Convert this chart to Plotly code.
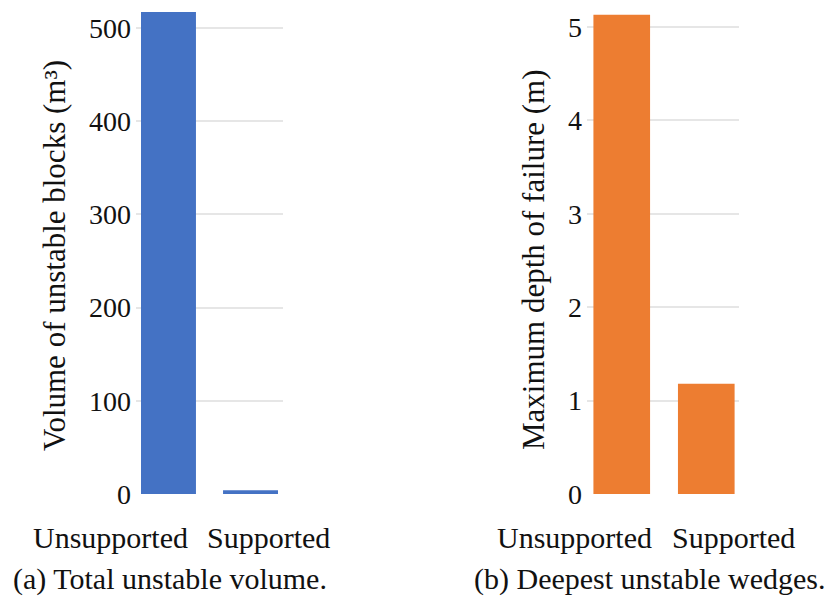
import plotly.graph_objects as go
from plotly.subplots import make_subplots

# Data
categories = ["Unsupported", "Supported"]
volume_m3 = [517, 4]          # total unstable volume (m³)
depth_m = [5.13, 1.18]        # maximum depth of failure (m)
volume_ticks = [0, 100, 200, 300, 400, 500]
depth_ticks = [0, 1, 2, 3, 4, 5]
captions = ["(a) Total unstable volume.", "(b) Deepest unstable wedges."]
y_titles = ["Volume of unstable blocks (m³)", "Maximum depth of failure (m)"]

W, H = 832, 597
FONT = "Liberation Serif"
BLUE = "#4472C4"
ORANGE = "#ED7D31"
GRID = "#e6e6e6"


def px(x):
    return x / W


def py(y):
    return 1 - y / H


fig = make_subplots(rows=1, cols=2)
fig.add_trace(go.Bar(x=categories, y=volume_m3, marker=dict(color=BLUE, line=dict(width=0))), row=1, col=1)
fig.add_trace(go.Bar(x=categories, y=depth_m, marker=dict(color=ORANGE, line=dict(width=0))), row=1, col=2)

ydom = [py(494), py(12)]
common_x = dict(showticklabels=False, showgrid=False, zeroline=False, showline=False,
                ticks="", automargin=False)
common_y = dict(domain=ydom, showgrid=True, gridcolor=GRID, gridwidth=1.5, zeroline=False,
                showline=False, ticks="", automargin=False,
                tickfont=dict(size=28, family=FONT, color="#111111"), ticklabelstandoff=4)
fig.update_layout(
    template="none",
    width=W, height=H,
    margin=dict(l=0, r=0, t=0, b=0, pad=0, autoexpand=False),
    paper_bgcolor="white", plot_bgcolor="white",
    showlegend=False,
    bargap=0.33,
    font=dict(family=FONT, color="#000000"),
    xaxis=dict(domain=[px(136), px(283)], range=[-0.396, 1.396], **common_x),
    xaxis2=dict(domain=[px(587), px(739)], range=[-0.411, 1.387], **common_x),
    yaxis=dict(range=[0, 517], tickvals=volume_ticks, **common_y),
    yaxis2=dict(range=[0, 5.16], tickvals=depth_ticks, **common_y),
)

annotations = []
# category labels
cat_font = dict(family=FONT, size=30, color="#111111")
for xc, text in [(110, "Unsupported"), (268, "Supported"), (574, "Unsupported"), (733, "Supported")]:
    annotations.append(dict(x=px(xc), y=py(537), xref="paper", yref="paper", text=text,
                            showarrow=False, xanchor="center", yanchor="middle", font=cat_font))
# panel captions
for xc, text in [(170, captions[0]), (650, captions[1])]:
    annotations.append(dict(x=px(xc), y=py(579), xref="paper", yref="paper", text=text,
                            showarrow=False, xanchor="center", yanchor="middle", font=cat_font))
# rotated y-axis titles
for xc, yc, text in [(54, 256, y_titles[0]), (533, 260, y_titles[1])]:
    annotations.append(dict(x=px(xc), y=py(yc), xref="paper", yref="paper", text=text,
                            textangle=-90, showarrow=False, xanchor="center", yanchor="middle",
                            font=dict(family=FONT, size=31, color="#111111")))
fig.update_layout(annotations=annotations)

fig.write_html("out.html")
